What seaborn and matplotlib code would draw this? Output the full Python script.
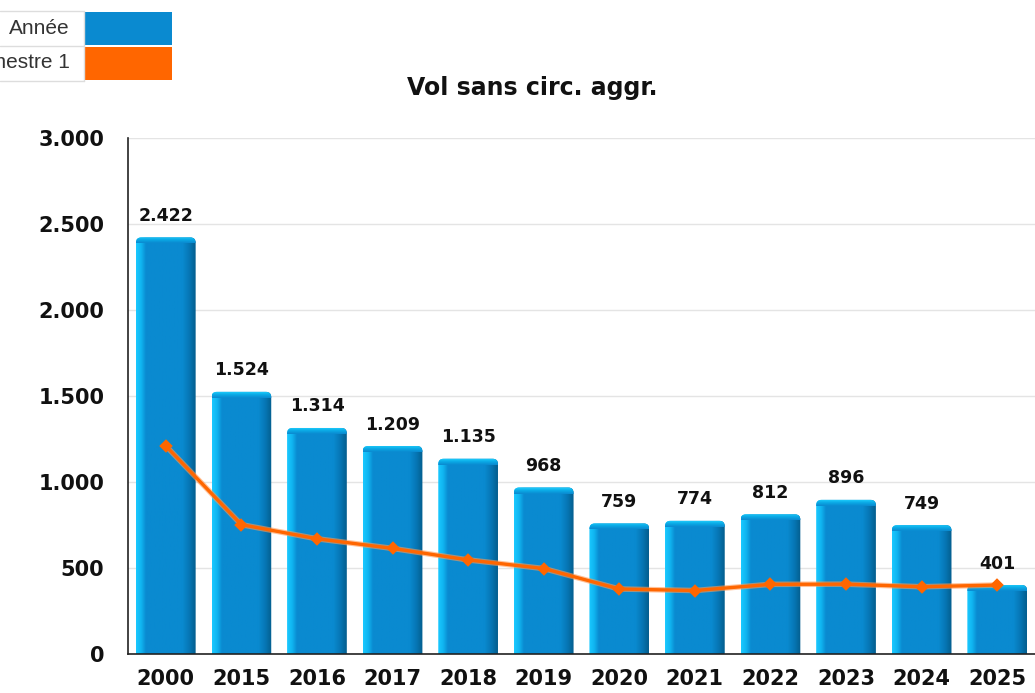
import numpy as np
import matplotlib
matplotlib.use("Agg")
import matplotlib.pyplot as plt
import matplotlib.patches as mpatches
import seaborn as sns
from matplotlib.colors import LinearSegmentedColormap
from matplotlib.ticker import FuncFormatter, FixedLocator

# data
years = ['2000', '2015', '2016', '2017', '2018', '2019', '2020', '2021', '2022', '2023', '2024', '2025']
annee = [2422, 1524, 1314, 1209, 1135, 968, 759, 774, 812, 896, 749, 401]
semestre1 = [1210, 752, 670, 614, 547, 497, 378, 369, 405, 406, 391, 401]
series_names = ['Année', 'Semestre 1']
title = 'Vol sans circ. aggr.'

blue = '#0a8ad0'
orange = '#ff6600'

def fmt_thousands(v, pos=None):
    return f"{int(round(v)):,}".replace(',', '.')

sns.set_style('white')
plt.rcParams['font.family'] = ['DejaVu Sans']

fig = plt.figure(figsize=(10.35, 6.93), dpi=100)
ax = fig.add_axes([128 / 1035, 1 - 654 / 693, 1 - 128 / 1035, (654 - 138) / 693])

sns.barplot(x=years, y=annee, color=blue, width=0.79, saturation=1, ax=ax, zorder=2)
ax.set_xlim(-0.5, len(years) - 0.5)
ax.set_ylim(0, 3000)

# pixels per data unit, used to size the bevel and corner rounding
fig.canvas.draw()
px_x = ax.transData.transform((1, 0))[0] - ax.transData.transform((0, 0))[0]
px_y = ax.transData.transform((0, 1))[1] - ax.transData.transform((0, 0))[1]
aspect = px_x / px_y

# fake the bevelled look of the original bars
side = LinearSegmentedColormap.from_list('side', [
    (0.0, '#19c8ff'), (0.08, '#10b4f0'), (0.16, blue),
    (0.78, blue), (0.9, '#0676b4'), (1.0, '#045f90')])
top = LinearSegmentedColormap.from_list('top', [(0, blue), (0.5, '#0aaae6'), (1, '#22d2ff')])
grad = np.linspace(0, 1, 64).reshape(1, -1)
for p in list(ax.patches):
    x0, w, h = p.get_x(), p.get_width(), p.get_height()
    clip = mpatches.FancyBboxPatch((x0, -80), w, h + 80, boxstyle='round,pad=0,rounding_size=0.07',
                                   mutation_aspect=aspect, transform=ax.transData)
    p.set_alpha(0)
    im = ax.imshow(grad, cmap=side, extent=[x0, x0 + w, 0, h], aspect='auto', zorder=2.1)
    im.set_clip_path(clip)
    bevel = 6 / px_y
    capim = ax.imshow(np.linspace(0, 1, 16).reshape(-1, 1), cmap=top, origin='lower',
                      extent=[x0, x0 + w, h - bevel, h], aspect='auto', zorder=2.2)
    capim.set_clip_path(clip)

ax.bar_label(ax.containers[0], labels=[fmt_thousands(v) for v in annee], padding=9,
             fontsize=12.5, fontweight='bold', color='#111111', zorder=5)

# semester line, soft halo first then the line
sns.pointplot(x=years, y=semestre1, color='#ff9a55', markers='', linewidth=4, alpha=0.6, ax=ax, zorder=3)
sns.pointplot(x=years, y=semestre1, color=orange, markers='D', markersize=5, linewidth=2.4, ax=ax, zorder=4)

ax.set_xlim(-0.5, len(years) - 0.5)
ax.set_ylim(0, 3000)
ax.set_yticks(range(0, 3001, 500))
ax.yaxis.set_major_formatter(FuncFormatter(fmt_thousands))
ax.set_xlabel('')
ax.set_ylabel('')

ax.yaxis.grid(True, color='#e4e4e4', linewidth=1, zorder=0)
ax.set_axisbelow(True)
for s in ['top', 'right']:
    ax.spines[s].set_visible(False)
for s in ['left', 'bottom']:
    ax.spines[s].set_color('#222222')
    ax.spines[s].set_linewidth(1.2)

ax.tick_params(axis='y', length=8, width=1.2, color='#222222', pad=9, labelsize=15)
ax.tick_params(axis='x', which='major', length=0, pad=11, labelsize=15)
ax.xaxis.set_minor_locator(FixedLocator(np.arange(-0.5, len(years), 1)))
ax.tick_params(axis='x', which='minor', length=6, width=1.2, color='#222222')
for lab in ax.get_xticklabels() + ax.get_yticklabels():
    lab.set_fontweight('bold')
    lab.set_color('#111111')

fig.text(532 / 1035, 1 - 88 / 693, title, ha='center', va='center',
         fontsize=17, fontweight='bold', color='#111111')

# legend table in the top-left corner (cut off at the left like the original)
legend_colors = [blue, orange]
for i, (name, col) in enumerate(zip(series_names, legend_colors)):
    row_top = 11 + i * 35
    fig.patches.append(mpatches.Rectangle((84 / 1035, 1 - (row_top + 34) / 693), 88 / 1035, 33 / 693,
                                          transform=fig.transFigure, facecolor=col, edgecolor='none'))
    fig.text(70 / 1035, 1 - (row_top + 17) / 693, name, ha='right', va='center',
             fontsize=15, color='#333333', family=['Liberation Sans', 'DejaVu Sans'])
for y in [11, 46, 81]:
    fig.lines.append(plt.Line2D([0, 84 / 1035], [1 - y / 693] * 2, transform=fig.transFigure,
                                color='#dddddd', linewidth=1))
fig.lines.append(plt.Line2D([84 / 1035] * 2, [1 - 11 / 693, 1 - 81 / 693], transform=fig.transFigure,
                            color='#dddddd', linewidth=1))

fig.savefig('out.png', dpi=100)
